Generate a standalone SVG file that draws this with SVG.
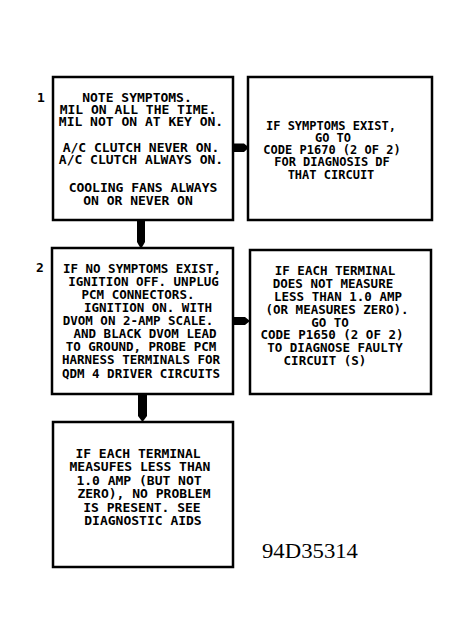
<svg xmlns="http://www.w3.org/2000/svg" width="468" height="643" viewBox="0 0 468 643">
<style>
.box{fill:#fff;stroke:#000;stroke-width:2.5}
.t{font-family:"DejaVu Sans Mono","Liberation Mono",monospace;font-weight:bold;fill:#000;text-anchor:middle}
.f13{font-size:13px}
.f12{font-size:12px}
.f125{font-size:12.5px}
.num{font-family:"DejaVu Sans Mono",monospace;font-weight:bold;font-size:13px;fill:#000}
.arr{fill:#000}
.cap{font-family:"Liberation Serif","Times New Roman",serif;font-size:20px;fill:#000}
</style>
<rect width="468" height="643" fill="#fff"/>
<g id="connectors">
<polygon class="arr" points="233,143.5 244,143.5 249,147.5 244,152 233,152"/>
<polygon class="arr" points="137,220 145,220 145,242 141,249 137,242"/>
<polygon class="arr" points="233,317 245,317 250,321 245,325 233,325"/>
<polygon class="arr" points="138,394 147,394 147,416 142.5,422 138,416"/>
</g>
<g id="node1">
<rect class="box" x="53" y="77" width="180" height="143"/>
<text class="num" x="37" y="102">1</text>
<text class="t f13" x="137" y="102">NOTE SYMPTOMS.</text>
<text class="t f13" x="138" y="114">MIL ON ALL THE TIME.</text>
<text class="t f13" x="141" y="126">MIL NOT ON AT KEY ON.</text>
<text class="t f13" x="141" y="152">A/C CLUTCH NEVER ON.</text>
<text class="t f13" x="141" y="164">A/C CLUTCH ALWAYS ON.</text>
<text class="t f13" x="143" y="192">COOLING FANS ALWAYS</text>
<text class="t f13" x="138" y="205">ON OR NEVER ON</text>
</g>
<g id="node1r">
<rect class="box" x="248" y="77" width="184" height="143"/>
<text class="t f12" x="331" y="130">IF SYMPTOMS EXIST,</text>
<text class="t f12" x="333" y="142">GO TO</text>
<text class="t f12" x="332" y="154">CODE P1670 (2 OF 2)</text>
<text class="t f12" x="332" y="166">FOR DIAGNOSIS DF</text>
<text class="t f12" x="331" y="179">THAT CIRCUIT</text>
</g>
<g id="node2">
<rect class="box" x="52" y="248" width="181" height="146"/>
<text class="num" x="36" y="272">2</text>
<text class="t f125" x="142" y="273">IF NO SYMPTOMS EXIST,</text>
<text class="t f125" x="143.5" y="286">IGNITION OFF. UNPLUG</text>
<text class="t f125" x="138" y="299">PCM CONNECTORS.</text>
<text class="t f125" x="148" y="312">IGNITION ON. WITH</text>
<text class="t f125" x="138" y="325">DVOM ON 2-AMP SCALE.</text>
<text class="t f125" x="145" y="338">AND BLACK DVOM LEAD</text>
<text class="t f125" x="141" y="351">TO GROUND, PROBE PCM</text>
<text class="t f125" x="141" y="364">HARNESS TERMINALS FOR</text>
<text class="t f125" x="141" y="378">QDM 4 DRIVER CIRCUITS</text>
</g>
<g id="node2r">
<rect class="box" x="250" y="250" width="181" height="144"/>
<text class="t f125" x="335" y="275">IF EACH TERMINAL</text>
<text class="t f125" x="333" y="288">DOES NOT MEASURE</text>
<text class="t f125" x="338" y="301">LESS THAN 1.0 AMP</text>
<text class="t f125" x="337" y="314">(OR MEASURES ZERO).</text>
<text class="t f125" x="330" y="327">GO TO</text>
<text class="t f125" x="332" y="339">CODE P1650 (2 OF 2)</text>
<text class="t f125" x="335" y="352">TO DIAGNOSE FAULTY</text>
<text class="t f125" x="325" y="365">CIRCUIT (S)</text>
</g>
<g id="node3">
<rect class="box" x="53" y="422" width="180" height="145"/>
<text class="t f13" x="138" y="458">IF EACH TERMINAL</text>
<text class="t f13" x="140" y="471">MEASUFES LESS THAN</text>
<text class="t f13" x="139" y="485">1.0 AMP (BUT NOT</text>
<text class="t f13" x="144" y="498">ZERO), NO PROBLEM</text>
<text class="t f13" x="142" y="512">IS PRESENT. SEE</text>
<text class="t f13" x="143" y="525">DIAGNOSTIC AIDS</text>
</g>
<text class="cap" x="262" y="558" textLength="96" lengthAdjust="spacingAndGlyphs">94D35314</text>
</svg>
